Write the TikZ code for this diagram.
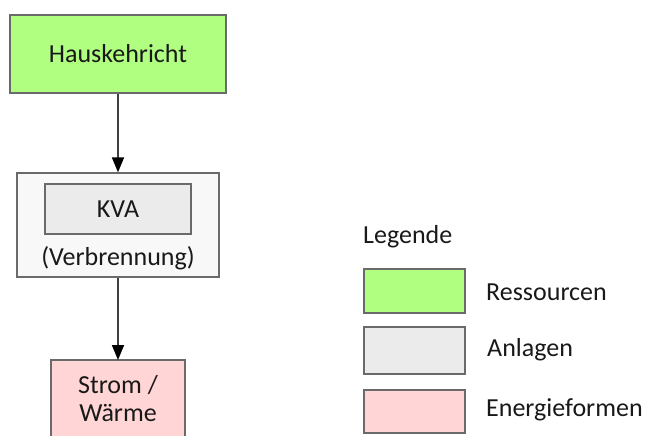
\documentclass[tikz,border=0pt]{standalone}
\usepackage{fontspec}
\setmainfont{Carlito}
\usetikzlibrary{arrows.meta}
\definecolor{resgreen}{HTML}{B0FF80}
\definecolor{anlgray}{HTML}{EBEBEB}
\definecolor{outergray}{HTML}{F8F8F8}
\definecolor{enpink}{HTML}{FFD5D5}
\definecolor{edge}{HTML}{6A6A6A}
\tikzset{
  box/.style={draw=edge, line width=1.3pt, inner sep=0pt},
  lbl/.style={font=\fontsize{26}{30}\selectfont, text=black!90, inner sep=0pt},
  flow/.style={draw=black!75, line width=1.7pt, -{Triangle[width=12pt,length=15pt,color=black]}}
}
\begin{document}
\begin{tikzpicture}[x=1pt,y=-1pt]
\useasboundingbox (0,0) rectangle (650,436);
% Hauskehricht
\node[box, fill=resgreen, minimum width=216pt, minimum height=78pt] (hk) at (118,54) {};
\node[lbl] (hkt) at (hk.center) {Hauskehricht};
% KVA outer
\node[box, fill=outergray, minimum width=202pt, minimum height=104pt] (outer) at (118,225) {};
\node[box, fill=anlgray, minimum width=146pt, minimum height=50pt] (kva) at (118,209) {};
\node[lbl] (kvat) at (kva.center) {KVA};
\node[lbl] (verb) at (118,258) {(Verbrennung)};
% Strom / Waerme
\path[box, fill=enpink] (51,360) rectangle (185,440);
\coordinate (sw) at (118,360);
\node[lbl] (swt1) at (118,385) {Strom /};
\node[lbl] (swt2) at (118,413) {Wärme};
% arrows
\draw[flow] (hk.south) -- (outer.north);
\draw[flow] (outer.south) -- (sw);
% legend
\node[lbl, anchor=west] (leg) at (363,237) {Legende};
\node[box, fill=resgreen, minimum width=101pt, minimum height=44pt] (l1) at (414.5,291) {};
\node[box, fill=anlgray, minimum width=101pt, minimum height=47pt] (l2) at (414.5,350.5) {};
\node[box, fill=enpink, minimum width=101pt, minimum height=43pt] (l3) at (414.5,411.5) {};
\node[lbl, anchor=west] (l1t) at (486,292) {Ressourcen};
\node[lbl, anchor=west] (l2t) at (487,350) {Anlagen};
\node[lbl, anchor=west] (l3t) at (486,410) {Energieformen};
\end{tikzpicture}
\end{document}
